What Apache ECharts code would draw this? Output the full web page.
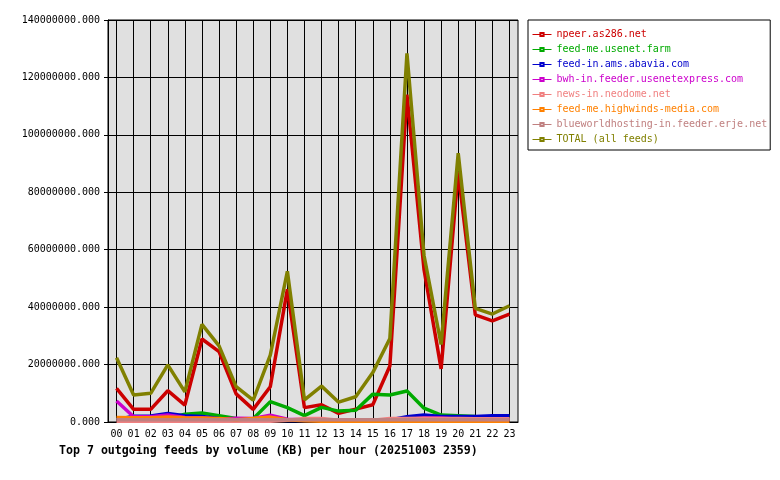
<!DOCTYPE html>
<html style="height: 100%">
<head>
  <meta charset="utf-8">
</head>
<body style="height: 100%; margin: 0">
  <div id="container" style="width: 780px; height: 480px"></div>
  <script src="https://cdn.jsdelivr.net/npm/echarts@6/dist/echarts.min.js"></script>
  <script>
    // hours of the day
    var hours = ['00', '01', '02', '03', '04', '05', '06', '07', '08', '09', '10', '11',
      '12', '13', '14', '15', '16', '17', '18', '19', '20', '21', '22', '23'];

    // volume per hour, millions of KB
    var npeer = [11.7, 4.4, 4.4, 10.9, 5.9, 28.9, 24.5, 9.8, 4.4, 12.3, 46.2, 5.0,
      6.0, 3.0, 4.5, 6.0, 19.5, 114, 53, 18.5, 87, 37.3, 35.2, 37.6];
    var usenetFarm = [1.0, 1.0, 1.0, 1.2, 2.7, 3.1, 2.2, 1.2, 1.1, 7.1, 5.0, 2.2,
      5.1, 3.8, 4.1, 9.7, 9.4, 10.8, 4.8, 2.4, 2.2, 1.9, 1.8, 1.8];
    var abavia = [0.8, 2.0, 2.1, 3.0, 2.2, 1.9, 1.2, 1.0, 1.0, 0.8, 0.5, 0.5,
      0.5, 0.5, 0.5, 0.5, 0.7, 1.8, 2.4, 1.9, 1.9, 1.9, 2.2, 2.2];
    var usenetexpress = [7.3, 1.8, 1.8, 2.4, 1.6, 1.5, 1.0, 1.3, 1.2, 2.4, 1.0, 0.8,
      0.8, 0.8, 0.8, 0.8, 0.8, 0.9, 1.4, 1.4, 1.0, 1.0, 1.0, 1.0];
    var neodome = [0.3, 0.3, 0.3, 0.3, 0.3, 0.3, 0.3, 0.3, 0.3, 0.3, 0.6, 1.2,
      1.2, 0.6, 0.4, 0.6, 1.2, 1.2, 1.3, 1.2, 1.2, 1.1, 1.1, 1.1];
    var highwinds = [1.6, 1.5, 1.5, 1.7, 1.5, 1.4, 1.2, 0.8, 1.2, 1.7, 0.8, 0.4,
      0.3, 0.3, 0.3, 0.3, 0.3, 0.3, 0.3, 0.3, 0.3, 0.3, 0.3, 0.3];
    var blueworld = [0.8, 0.8, 0.8, 0.8, 0.8, 0.8, 0.8, 0.8, 0.8, 0.8, 0.8, 0.8,
      0.8, 0.8, 0.8, 0.8, 0.8, 0.8, 0.8, 0.8, 0.8, 0.8, 0.8, 0.8];
    var total = [22.4, 9.4, 10.0, 19.9, 10.5, 34.0, 26.5, 12.3, 7.6, 23.3, 52.5, 7.7,
      12.5, 6.9, 8.8, 17.2, 29.1, 128.4, 58, 27, 93.6, 39.6, 37.6, 40.5];

    var names = ['npeer.as286.net', 'feed-me.usenet.farm', 'feed-in.ams.abavia.com',
      'bwh-in.feeder.usenetexpress.com', 'news-in.neodome.net', 'feed-me.highwinds-media.com',
      'blueworldhosting-in.feeder.erje.net', 'TOTAL (all feeds)'];
    var colors = ['#cc0000', '#00aa00', '#0000cc', '#cc00cc', '#f08080', '#ff8000', '#c08080', '#808000'];
    var values = [npeer, usenetFarm, abavia, usenetexpress, neodome, highwinds, blueworld, total];

    var mono = 'DejaVu Sans Mono';
    var chart = echarts.init(document.getElementById('container'), null, { renderer: 'canvas' });

    var option = {
      animation: false,
      title: {
        text: 'Top 7 outgoing feeds by volume (KB) per hour (20251003 2359)',
        left: 59,
        top: 445,
        padding: 0,
        textStyle: { fontFamily: mono, fontSize: 11.6, fontWeight: 'bold', color: '#000' }
      },
      legend: {
        orient: 'vertical',
        left: 528,
        top: 20,
        padding: [7, 3, 3, 4],
        borderColor: '#000',
        borderWidth: 1,
        itemWidth: 19,
        itemHeight: 4,
        itemGap: 0,
        lineStyle: { width: 1 },
        textStyle: { fontFamily: mono, fontSize: 10, lineHeight: 15 },
        data: names.map(function (n, i) {
          return { name: n, textStyle: { color: colors[i] } };
        })
      },
      grid: {
        left: 108,
        top: 20,
        right: 262,
        bottom: 58,
        show: true,
        backgroundColor: '#e0e0e0',
        borderColor: '#000',
        borderWidth: 1
      },
      xAxis: {
        type: 'category',
        data: hours,
        boundaryGap: true,
        axisLine: { lineStyle: { color: '#000', width: 1 } },
        axisTick: { alignWithLabel: true, length: 4, lineStyle: { color: '#000' } },
        axisLabel: { fontFamily: mono, fontSize: 10, color: '#000', margin: 7 },
        splitLine: { show: true, alignWithLabel: true, lineStyle: { color: '#000', width: 1 } }
      },
      yAxis: {
        type: 'value',
        min: 0,
        max: 140,
        interval: 20,
        axisLine: { show: true, lineStyle: { color: '#000' } },
        axisTick: { show: true, length: 4, lineStyle: { color: '#000' } },
        axisLabel: {
          fontFamily: mono, fontSize: 10, color: '#000', margin: 8,
          formatter: function (v) { return (v * 1000000).toFixed(3); }
        },
        splitLine: { lineStyle: { color: '#000', width: 1 } }
      },
      series: names.map(function (n, i) {
        return {
          name: n,
          type: 'line',
          data: values[i],
          showSymbol: false,
          symbol: 'emptyRect',
          color: colors[i],
          lineStyle: { width: 3.5, color: colors[i] }
        };
      })
    };

    chart.setOption(option);
  </script>
</body>
</html>
